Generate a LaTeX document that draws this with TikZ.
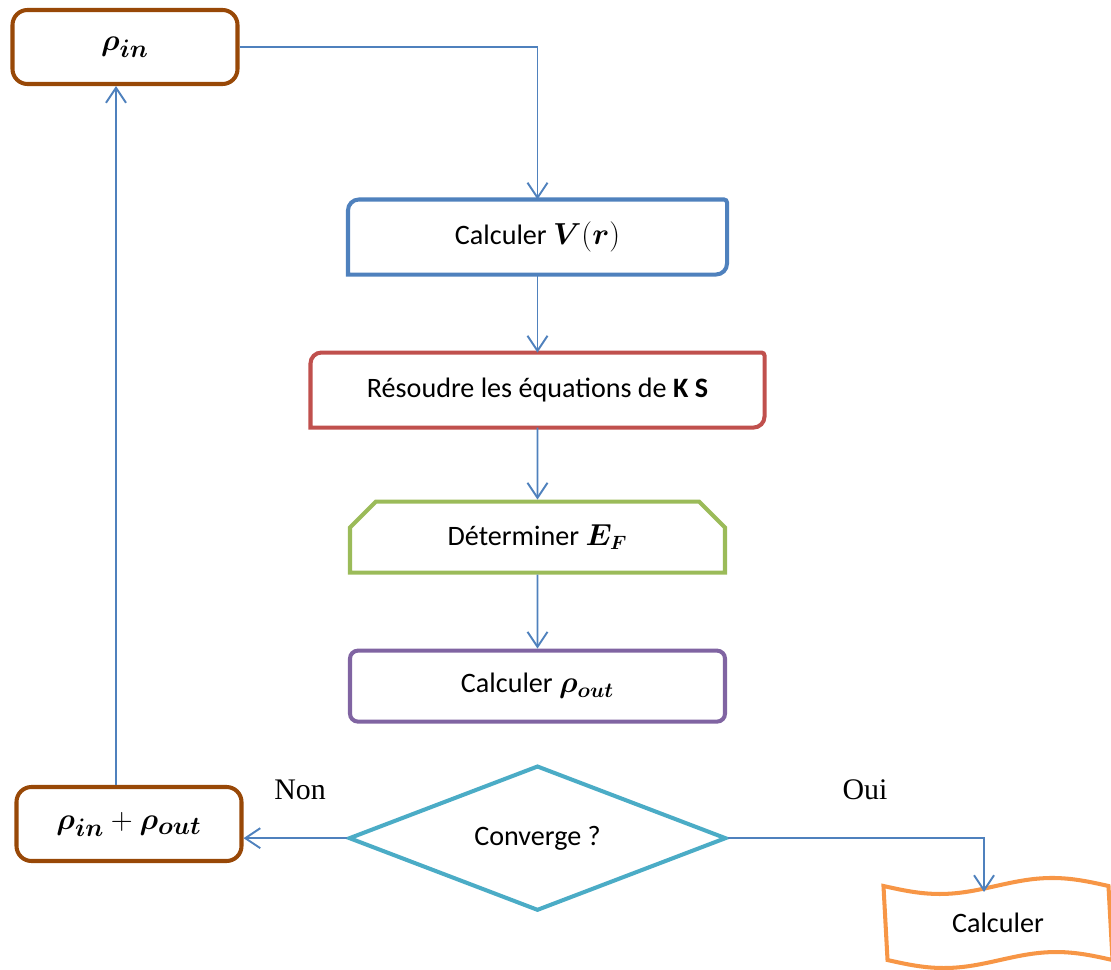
\documentclass[tikz,border=0pt]{standalone}
\usepackage{fontspec}
\setmainfont{Carlito}
\newfontfamily\labelfont{Liberation Serif}
\usepackage{amsmath,bm}
\usetikzlibrary{positioning,shapes.geometric,shapes.misc,arrows.meta}

\definecolor{cbrown}{HTML}{984807}
\definecolor{cblue}{HTML}{4F81BD}
\definecolor{cred}{HTML}{C0504D}
\definecolor{cgreen}{HTML}{9BBB59}
\definecolor{cpurple}{HTML}{8064A2}
\definecolor{cteal}{HTML}{4BACC6}
\definecolor{corange}{HTML}{F79646}

\begin{document}
\begin{tikzpicture}[line width=2.3pt, >={Straight Barb[length=0.3cm,width=0.4cm]},
    font=\fontsize{16}{19}\selectfont,
    rhobox/.style={draw=cbrown, rounded corners=0.3cm, minimum width=4.5cm, minimum height=1.48cm,
                   font=\fontsize{19}{22}\selectfont},
    stepbox/.style={minimum width=7.5cm, minimum height=1.42cm},
    flow/.style={->, draw=cblue, line width=1.1pt}]
    \useasboundingbox (0,0) rectangle (22.22,-19.4);

    \node[rhobox] (rhoIn) at (2.5,-0.94) {$\bm{\rho}_{\bm{in}}$};
    \node[stepbox] (potV) at (10.75,-4.74) {Calculer $\bm{V}(\bm{r})$};
    \node[stepbox, minimum width=9.0cm, below=1.56cm of potV] (solveKS) {Résoudre les équations de \textbf{K S}};
    \node[stepbox, draw=cgreen, chamfered rectangle, chamfered rectangle corners={north west,north east},
          chamfered rectangle xsep=0.26cm, chamfered rectangle ysep=0.26cm,
          below=1.44cm of solveKS] (fermiE) {Déterminer $\bm{E_F}$};
    \node[stepbox, draw=cpurple, rounded corners=0.16cm, below=1.48cm of fermiE] (rhoOut) {Calculer {\fontsize{18}{20}\selectfont$\bm{\rho}_{\bm{out}}$}};
    \node[draw=cteal, diamond, aspect=2.6, minimum width=7.55cm, minimum height=2.9cm, inner sep=0pt,
          below=0.8cm of rhoOut] (conv) {Converge ?};
    \node[rhobox] (rhoSum) at (2.58,-16.48) {$\bm{\rho}_{\bm{in}}+\bm{\rho}_{\bm{out}}$};
    \node[minimum width=4.5cm, minimum height=1.4cm] (calc) at (19.96,-18.46) {Calculer};

    \node[font=\labelfont\fontsize{17}{20}\selectfont] (nonLabel) at (6.0,-15.8) {Non};
    \node[font=\labelfont\fontsize{17}{20}\selectfont] (ouiLabel) at (17.3,-15.8) {Oui};

    % diagonal rounded corners
    \draw[cblue] (potV.south west) [rounded corners=0.22cm] -- (potV.north west) [rounded corners=0.06cm] -- (potV.north east)
        [rounded corners=0.22cm] -- (potV.south east) [sharp corners] -- cycle;
    \draw[cred] (solveKS.south west) [rounded corners=0.22cm] -- (solveKS.north west) [rounded corners=0.06cm] -- (solveKS.north east)
        [rounded corners=0.22cm] -- (solveKS.south east) [sharp corners] -- cycle;
    % punched tape
    \draw[corange] (calc.north west) sin ++(1.125,-0.16) cos ++(1.125,0.16) sin ++(1.125,0.16) cos ++(1.125,-0.16)
        -- (calc.south east) sin ++(-1.125,0.16) cos ++(-1.125,-0.16) sin ++(-1.125,-0.16) cos ++(-1.125,0.16) -- cycle;

    \draw[flow] (rhoIn.east) -| (potV.north);
    \draw[flow] (potV) -- (solveKS);
    \draw[flow] (solveKS) -- (fermiE);
    \draw[flow] (fermiE) -- (rhoOut);
    \draw[flow] (conv.west) -- (conv.west -| rhoSum.east);
    \draw[flow] ([xshift=-0.26cm]rhoSum.north) -- ([xshift=-0.26cm]rhoSum.north |- rhoIn.south);
    \draw[flow] (conv.east) -| ([xshift=-0.28cm,yshift=-0.12cm]calc.north);
\end{tikzpicture}
\end{document}
